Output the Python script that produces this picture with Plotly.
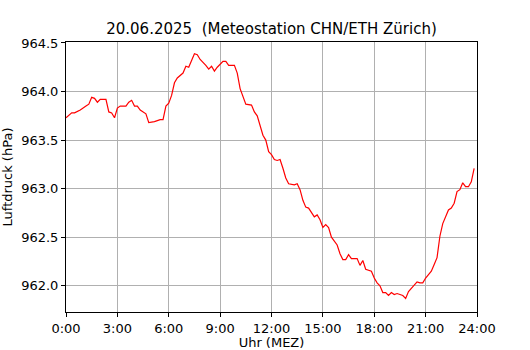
import plotly.graph_objects as go

times = ["0:00","0:20","0:30","0:50","1:10","1:20","1:30","1:40","1:50","2:00",
         "2:20","2:30","2:40","2:50","3:00","3:10","3:30","3:40","3:50","4:00",
         "4:10","4:20","4:40","4:50","5:10","5:30","5:40","5:50","6:00","6:10",
         "6:20","6:30","6:50","7:00","7:10","7:20","7:30","7:40","7:50","8:10",
         "8:20","8:30","8:40","8:50","9:10","9:20","9:30","9:50","10:00","10:10",
         "10:20","10:30","10:50","11:00","11:10","11:20","11:30","11:40","11:50","12:00",
         "12:10","12:20","12:30","12:40","12:50","13:00","13:20","13:30","13:40","13:50",
         "14:00","14:10","14:20","14:30","14:40","14:50","15:00","15:10","15:20","15:30",
         "15:50","16:00","16:10","16:20","16:30","16:40","17:00","17:10","17:20","17:30",
         "17:50","18:00","18:10","18:20","18:30","18:40","18:50","19:00","19:10","19:20",
         "19:40","19:50","20:00","20:10","20:30","20:40","20:50","21:00","21:20","21:30",
         "21:40","21:50","22:00","22:20","22:30","22:40","22:50","23:00","23:10","23:20",
         "23:30","23:40","23:50"]
pressure = [963.73,963.78,963.78,963.81,963.85,963.87,963.94,963.93,963.89,963.92,
            963.92,963.79,963.78,963.73,963.83,963.85,963.85,963.89,963.91,963.85,
            963.85,963.81,963.77,963.68,963.69,963.71,963.71,963.85,963.88,963.96,
            964.09,964.14,964.19,964.26,964.25,964.33,964.39,964.38,964.33,964.27,
            964.23,964.26,964.21,964.25,964.31,964.31,964.27,964.27,964.19,964.03,
            963.95,963.87,963.86,963.79,963.75,963.66,963.55,963.50,963.38,963.35,
            963.30,963.29,963.30,963.21,963.11,963.05,963.04,963.05,962.99,962.88,
            962.81,962.80,962.76,962.71,962.73,962.68,962.60,962.63,962.60,962.50,
            962.42,962.33,962.27,962.27,962.32,962.28,962.28,962.21,962.26,962.17,
            962.15,962.08,962.03,962.00,961.93,961.93,961.90,961.93,961.91,961.92,
            961.90,961.87,961.94,961.97,962.04,962.03,962.03,962.08,962.15,962.22,
            962.29,962.51,962.64,962.78,962.80,962.85,962.97,962.99,963.06,963.02,
            963.02,963.07,963.21]

x_tick_vals = [0, 3, 6, 9, 12, 15, 18, 21, 24]
x_tick_text = ["0:00", "3:00", "6:00", "9:00", "12:00", "15:00", "18:00", "21:00", "24:00"]
y_tick_vals = [962.0, 962.5, 963.0, 963.5, 964.0, 964.5]
y_tick_text = ["962.0", "962.5", "963.0", "963.5", "964.0", "964.5"]

def to_hours(t):
    h, m = t.split(":")
    return int(h) + int(m) / 60.0

hours = [to_hours(t) for t in times]

font = "DejaVu Sans"
fig = go.Figure()
fig.add_trace(go.Scatter(x=hours, y=pressure, mode="lines",
                         line=dict(color="red", width=1.2), showlegend=False,
                         hoverinfo="skip"))

axis_common = dict(showline=True, linecolor="black", linewidth=1, mirror=True,
                   ticks="outside", ticklen=4, tickcolor="black",
                   showgrid=True, gridcolor="#b0b0b0", gridwidth=1,
                   zeroline=False, automargin=False,
                   tickfont=dict(family=font, size=13, color="black"))

fig.update_layout(
    width=530, height=350,
    margin=dict(l=66, r=53, t=42, b=38),
    paper_bgcolor="white", plot_bgcolor="white",
    title=dict(text="20.06.2025\u00a0 (Meteostation CHN/ETH Zürich)",
               x=(66 + 477) / 2 / 530, xanchor="center", y=1 - 29 / 350, yanchor="middle",
               font=dict(family=font, size=15, color="black")),
    xaxis=dict(range=[0, 24], tickvals=x_tick_vals, ticktext=x_tick_text,
               title=dict(text="Uhr (MEZ)", standoff=4,
                          font=dict(family=font, size=13, color="black")),
               **axis_common),
    yaxis=dict(range=[961.73, 964.51], tickvals=y_tick_vals, ticktext=y_tick_text,
               title=dict(text="Luftdruck (hPa)", standoff=6,
                          font=dict(family=font, size=13, color="black")),
               **axis_common),
)

fig.write_html("out.html", config={"displayModeBar": False},
               post_script="document.body.style.margin='0';document.body.style.overflow='hidden';")
